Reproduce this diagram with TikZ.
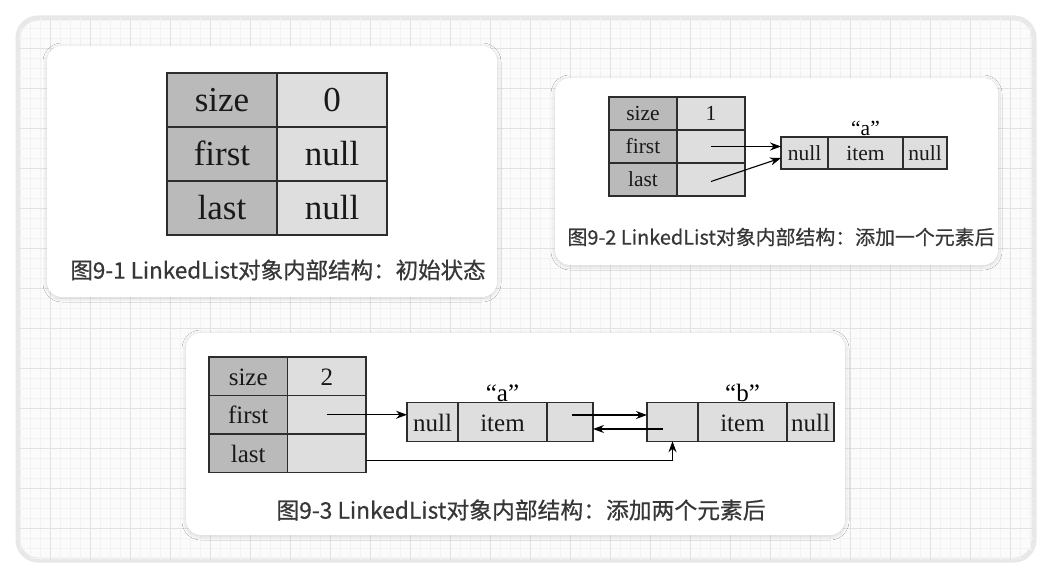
\documentclass[tikz,border=0pt]{standalone}
\usepackage{fontspec}
\setmainfont{Liberation Serif}
\newfontfamily\cjkfont{Noto Sans CJK SC}[BoldFont=*, BoldFeatures={FakeBold=0.6}]
\usetikzlibrary{positioning,arrows.meta,calc,shadows.blur}
\definecolor{gLine}{RGB}{45,45,45}
\definecolor{gDark}{RGB}{186,186,186}
\definecolor{gLight}{RGB}{222,222,222}
\definecolor{gText}{RGB}{55,55,55}
\definecolor{gMinor}{RGB}{242,242,242}
\definecolor{gMajor}{RGB}{226,226,226}
\definecolor{gPanel}{RGB}{251,251,251}
\definecolor{gRim}{RGB}{232,232,232}
\tikzset{
  card/.style={fill=white, rounded corners=15pt,
               blur shadow={shadow xshift=0pt, shadow yshift=-1pt,
                            shadow blur radius=4pt, shadow opacity=18}},
  cell/.style={rectangle, draw=gLine, line width=1.2pt, outer sep=0pt,
               inner sep=0pt, text=black!90},
  key/.style={cell, fill=gDark},
  val/.style={cell, fill=gLight},
  bigcell/.style={minimum width=110, minimum height=54, font=\fontsize{35}{40}\selectfont,
                  text height=25pt, text depth=2pt},
  smallcell/.style={minimum height=33, font=\fontsize{21.5}{24}\selectfont,
                    text height=16pt, text depth=1.7pt},
  midcell/.style={minimum height=38.5, font=\fontsize{25}{28}\selectfont,
                  text height=19pt, text depth=1pt},
  tag/.style={inner sep=1pt},
  caption/.style={text=gText, inner sep=0pt},
  ptr/.style={-{Stealth[length=11pt,width=8pt]}, line width=1.1pt, draw=black},
}
\begin{document}
\begin{tikzpicture}[x=1pt, y=-1pt]
  \useasboundingbox (0,0) rectangle (1052,578);
  \fill[white] (0,0) rectangle (1052,578);
  \path[fill=gPanel, draw=gRim, line width=5pt, rounded corners=20pt] (18,18) rectangle (1034,560);
  \begin{scope}
    \clip[rounded corners=20pt] (18,18) rectangle (1034,560);
    \foreach \x in {20,30,...,1030} \draw[gMinor, line width=0.8pt] (\x,18) -- (\x,560);
    \foreach \y in {28,38,...,558} \draw[gMinor, line width=0.8pt] (18,\y) -- (1034,\y);
    \foreach \x in {50,90,...,1010} \draw[gMajor, line width=0.8pt] (\x,18) -- (\x,560);
    \foreach \y in {48,88,...,528} \draw[gMajor, line width=0.8pt] (18,\y) -- (1034,\y);
  \end{scope}
  \path[card] (47,46) rectangle (497,297);
  \path[card] (555,78) rectangle (998,265);
  \path[card] (186,333) rectangle (845,535);

  % 9-1
  \node[key, bigcell] (s1k) at (222,100) {size};
  \node[val, bigcell, right=0pt of s1k] (s1v) {0};
  \node[key, bigcell, below=0pt of s1k] (f1k) {first};
  \node[val, bigcell, right=0pt of f1k] (f1v) {null};
  \node[key, bigcell, below=0pt of f1k] (l1k) {last};
  \node[val, bigcell, right=0pt of l1k] (l1v) {null};
  \node[caption, font=\cjkfont\bfseries\fontsize{22.5}{25}\selectfont] (c1) at (278,270) {图9-1 LinkedList对象内部结构：初始状态};

  % 9-2
  \node[key, smallcell, minimum width=68] (s2k) at (643,113.5) {size};
  \node[val, smallcell, minimum width=68, right=0pt of s2k] (s2v) {1};
  \node[key, smallcell, minimum width=68, below=0pt of s2k] (f2k) {first};
  \node[val, smallcell, minimum width=68, right=0pt of f2k] (f2v) {};
  \node[key, smallcell, minimum width=68, below=0pt of f2k] (l2k) {last};
  \node[val, smallcell, minimum width=68, right=0pt of l2k] (l2v) {};
  \node[val, smallcell, minimum height=32, minimum width=47] (a2p) at (804.5,153) {null};
  \node[val, smallcell, minimum height=32, minimum width=75, right=0pt of a2p] (a2i) {item};
  \node[val, smallcell, minimum height=32, minimum width=44, right=0pt of a2i] (a2n) {null};
  \node[tag, font=\fontsize{21.5}{24}\selectfont, above=0pt of a2i] (a2t) {“a”};
  \draw[ptr] (f2v.center) -- (f2v.center -| a2p.west);
  \draw[ptr] ($(l2v.center)+(0,2)$) -- ($(a2p.west)+(0,5)$);
  \node[caption, font=\cjkfont\bfseries\fontsize{19.9}{22}\selectfont] (c2) at (781,237) {图9-2 LinkedList对象内部结构：添加一个元素后};

  % 9-3
  \node[key, midcell, minimum width=78.5] (s3k) at (248.25,376.25) {size};
  \node[val, midcell, minimum width=78.5, right=0pt of s3k] (s3v) {2};
  \node[key, midcell, minimum width=78.5, below=0pt of s3k] (f3k) {first};
  \node[val, midcell, minimum width=78.5, right=0pt of f3k] (f3v) {};
  \node[key, midcell, minimum width=78.5, below=0pt of f3k] (l3k) {last};
  \node[val, midcell, minimum width=78.5, right=0pt of l3k] (l3v) {};
  \node[val, midcell, minimum width=51] (a3p) at (432.5,422) {null};
  \node[val, midcell, minimum width=89, right=0pt of a3p] (a3i) {item};
  \node[val, midcell, minimum width=46, right=0pt of a3i] (a3n) {};
  \node[val, midcell, minimum width=51] (b3p) at (672.5,422) {};
  \node[val, midcell, minimum width=89, right=0pt of b3p] (b3i) {item};
  \node[val, midcell, minimum width=47, right=0pt of b3i] (b3n) {null};
  \node[tag, font=\fontsize{25}{28}\selectfont, above=0pt of a3i] (a3t) {“a”};
  \node[tag, font=\fontsize{25}{28}\selectfont, above=0pt of b3i] (b3t) {“b”};
  \coordinate (anx) at ($(a3n.center)+(2,-7)$);
  \coordinate (bpx) at ($(b3p.center)+(-10,7)$);
  \coordinate (lst) at ($(l3v.east)+(0,7)$);
  \draw[ptr] (f3v.center) -- (f3v.center -| a3p.west);
  \draw[ptr] (anx) -- (anx -| b3p.west);
  \draw[ptr] (bpx) -- (bpx -| a3n.east);
  \draw[ptr] (lst) -| (b3p.south);
  \node[caption, font=\cjkfont\bfseries\fontsize{22.8}{25}\selectfont] (c3) at (521,510) {图9-3 LinkedList对象内部结构：添加两个元素后};
\end{tikzpicture}
\end{document}
